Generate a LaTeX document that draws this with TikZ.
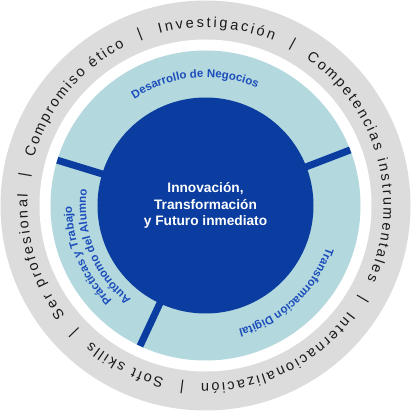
\documentclass[tikz,border=0pt]{standalone}
\usepackage{fontspec}
\setmainfont{Liberation Sans}
\usetikzlibrary{decorations.text}
\definecolor{darkblue}{HTML}{0A3D9F}
\definecolor{lightblue}{HTML}{B3D8DE}
\definecolor{ringgray}{HTML}{DCDCDC}
\definecolor{labelblue}{HTML}{1C4EBB}
\definecolor{ringtext}{HTML}{1A1A1A}
\newcommand\ringfmt{\fontsize{14.5}{14.5}\selectfont\color{ringtext}}
\newcommand\labelfmt{\bfseries\fontsize{11.5}{11.5}\selectfont\color{labelblue}}
\tikzset{
  ringword/.style={decorate, decoration={text along path, text align={fit to path}, text={#1}}},
  innerlabel/.style={decorate, decoration={text along path, text align=center, text={#1}}},
  sepbar/.style={inner sep=0pt, text=ringtext, font=\fontsize{14.5}{14.5}\selectfont},
  divider/.style={draw=darkblue, line width=7pt},
  core/.style={circle, fill=darkblue, minimum size=216pt, inner sep=0pt, text=white, align=center,
    font=\bfseries\fontsize{13.7}{16.7}\selectfont}
}
\begin{document}
\begin{tikzpicture}
\useasboundingbox (-205.5pt,-205.5pt) rectangle (205.5pt,205.5pt);
\fill[ringgray] (0,0) circle[radius=205pt];
\fill[white] (0,0) circle[radius=166pt];
\fill[lightblue] (0,0) circle[radius=155pt];
\foreach \a/\n in {163/dl,21/dr,-115/db} {
  \coordinate (\n-in) at (\a:100pt);
  \coordinate (\n-out) at (\a:155pt);
  \draw[divider] (\n-in) -- (\n-out);
}
\node[core] (center) at (0,0) {Innovación,\\Transformación\\y Futuro inmediato};
% inner ring labels
\path[innerlabel={|\labelfmt|Desarrollo de Negocios}] (150:128pt) arc[start angle=150, end angle=40, radius=128pt];
\path[innerlabel={|\labelfmt|Transformación Digital}] (0:128pt) arc[start angle=0, end angle=-94, radius=128pt];
\path[innerlabel={|\labelfmt|Prácticas y Trabajo}] (240:133.5pt) arc[start angle=240, end angle=166, radius=133.5pt];
\path[innerlabel={|\labelfmt|Autónomo del Alumno}] (240:119.5pt) arc[start angle=240, end angle=164, radius=119.5pt];
% outer ring words
\path[ringword={|\ringfmt|Investigación}] (105:178pt) arc[start angle=105, end angle=67.6, radius=178pt];
\path[ringword={|\ringfmt|Competencias instrumentales}] (55.6:178pt) arc[start angle=55.6, end angle=-24.7, radius=178pt];
\path[ringword={|\ringfmt|Internacionalización}] (-36.7:178pt) arc[start angle=-36.7, end angle=-91.4, radius=178pt];
\path[ringword={|\ringfmt|Soft skills}] (-103.4:178pt) arc[start angle=-103.4, end angle=-130, radius=178pt];
\path[ringword={|\ringfmt|Ser profesional}] (-142:178pt) arc[start angle=-142, end angle=-183.6, radius=178pt];
\path[ringword={|\ringfmt|Compromiso ético}] (164.4:178pt) arc[start angle=164.4, end angle=117, radius=178pt];
% separators
\foreach \a/\n in {111/s1,61.6/s2,-30.7/s3,-97.4/s4,-136/s5,170.4/s6}
  \node[sepbar, rotate=\a-90] (\n) at (\a:183pt) {|};
\end{tikzpicture}
\end{document}
